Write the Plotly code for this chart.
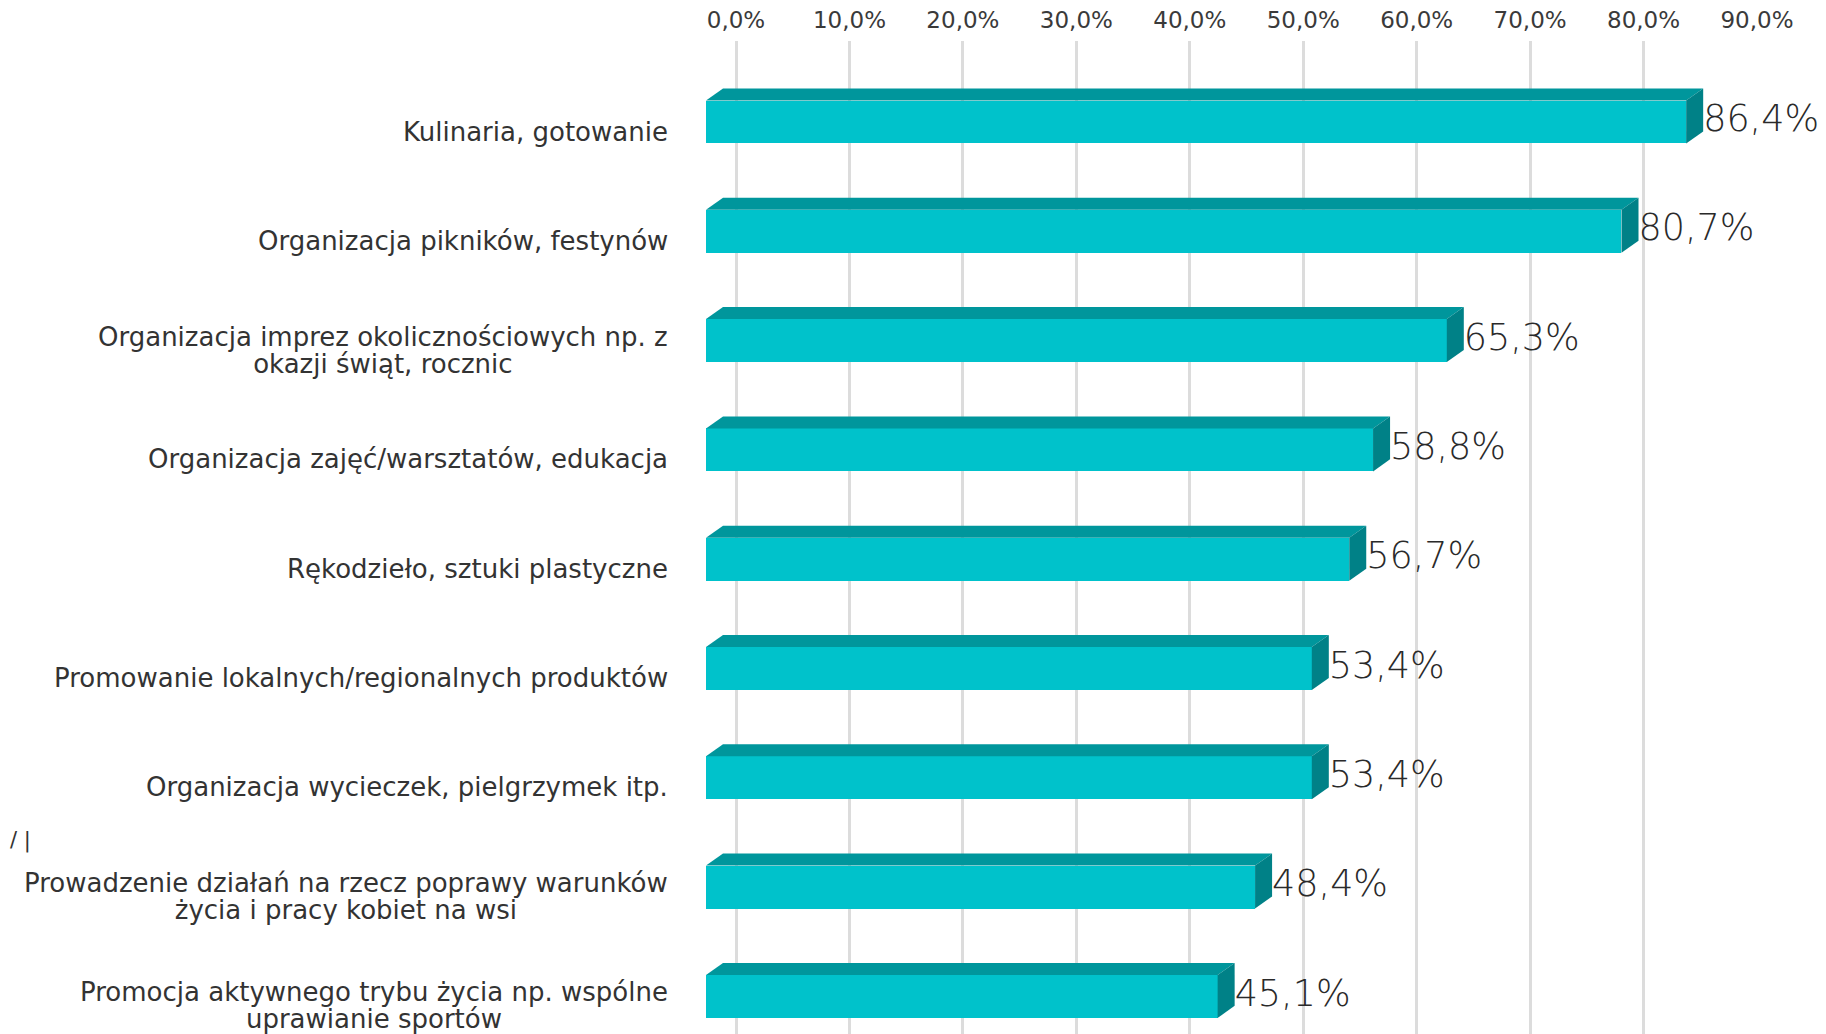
import plotly.graph_objects as go

categories = [
    "Kulinaria, gotowanie",
    "Organizacja pikników, festynów",
    "Organizacja imprez okolicznościowych np. z<br>okazji świąt, rocznic",
    "Organizacja zajęć/warsztatów, edukacja",
    "Rękodzieło, sztuki plastyczne",
    "Promowanie lokalnych/regionalnych produktów",
    "Organizacja wycieczek, pielgrzymek itp.",
    "Prowadzenie działań na rzecz poprawy warunków<br>życia i pracy kobiet na wsi",
    "Promocja aktywnego trybu życia np. wspólne<br>uprawianie sportów",
]
values = [86.4, 80.7, 65.3, 58.8, 56.7, 53.4, 53.4, 48.4, 45.1]
tick_values = [0, 10, 20, 30, 40, 50, 60, 70, 80, 90]
tick_labels = [f"{t:.1f}".replace(".", ",") + "%" for t in tick_values]

# the page body has an 8px margin; figure coordinates = page coordinates - 8
OFF = 8
W, H = 1826 - 2 * OFF, 1034 - OFF
FRONT = "#00C2CB"
TOP = "#00969C"
SIDE = "#008187"
TEXT = "#333333"
FONT = "DejaVu Sans"

pos = list(range(len(values)))
bar_h = 0.393     # front face height (category units)
depth = 2.645     # bars stand in front of the back wall (value units)
dx = 1.5          # oblique depth along x (value units)
dy = 0.11         # oblique depth along y (category units)

fig = go.Figure()

# front faces
fig.add_trace(go.Bar(
    x=values, y=pos, base=-depth, orientation="h", width=bar_h,
    marker=dict(color=FRONT, line=dict(width=0)),
    hoverinfo="skip", showlegend=False,
))

# top and side faces (oblique 3D look)
for v, p in zip(values, pos):
    top = p - bar_h / 2
    bot = p + bar_h / 2
    x0 = -depth
    x1 = v - depth
    fig.add_trace(go.Scatter(
        x=[x0, x1, x1 + dx, x0 + dx, x0], y=[top, top, top - dy, top - dy, top],
        fill="toself", fillcolor=TOP, mode="lines", line=dict(width=0, color=TOP),
        hoverinfo="skip", showlegend=False,
    ))
    fig.add_trace(go.Scatter(
        x=[x1, x1, x1 + dx, x1 + dx, x1], y=[top, bot, bot - dy, top - dy, top],
        fill="toself", fillcolor=SIDE, mode="lines", line=dict(width=0, color=SIDE),
        hoverinfo="skip", showlegend=False,
    ))

# value labels
fig.add_trace(go.Scatter(
    x=[v - depth + dx for v in values], y=pos, mode="text",
    text=[f"{v:.1f}".replace(".", ",") + "%" for v in values],
    textposition="middle right",
    textfont=dict(family=FONT, size=36.5, color="#2a2a2a", weight=300),
    hoverinfo="skip", showlegend=False, cliponaxis=False,
))

# category labels: glyphs at 26px, line spacing of a 21px font (tight, like the original)
for c, p in zip(categories, pos):
    txt = "<br>".join(f'<span style="font-size:26px">{ln}</span>' for ln in c.split("<br>"))
    fig.add_annotation(
        x=(670 - OFF) / W, xref="paper", xanchor="right",
        y=p, yref="y", yanchor="middle", yshift=-9.5,
        text=txt, showarrow=False, align="center",
        font=dict(family=FONT, size=21, color=TEXT),
    )

plot_top = 41 - OFF
plot_h = H - plot_top
fig.add_annotation(x=0, xref="paper", xanchor="left",
                   y=(H - (840 - OFF)) / plot_h, yref="paper", yanchor="middle",
                   text="/ |", showarrow=False,
                   font=dict(family=FONT, size=21, color=TEXT))

px_per_cat = 109.3
c0 = 122 - OFF
c8 = c0 + 8 * px_per_cat
y_top = -(c0 - plot_top) / px_per_cat
y_bot = 8 + (H - c8) / px_per_cat

fig.update_layout(
    width=W, height=H,
    margin=dict(l=0, r=0, t=plot_top, b=0, autoexpand=False),
    paper_bgcolor="white", plot_bgcolor="white",
    xaxis=dict(domain=[(706 - OFF) / W, (1757 - OFF) / W], range=[-depth, 90],
               side="top", tickvals=tick_values, ticktext=tick_labels,
               showgrid=True, gridcolor="#DCDCDC", gridwidth=3, automargin=False,
               zeroline=False, showline=False, ticks="", ticklabelstandoff=7,
               tickfont=dict(family=FONT, size=23, color="#3a3a3a")),
    yaxis=dict(range=[y_bot, y_top], visible=False, showgrid=False, zeroline=False,
               automargin=False),
    bargap=0,
)

fig.write_html("out.html")
